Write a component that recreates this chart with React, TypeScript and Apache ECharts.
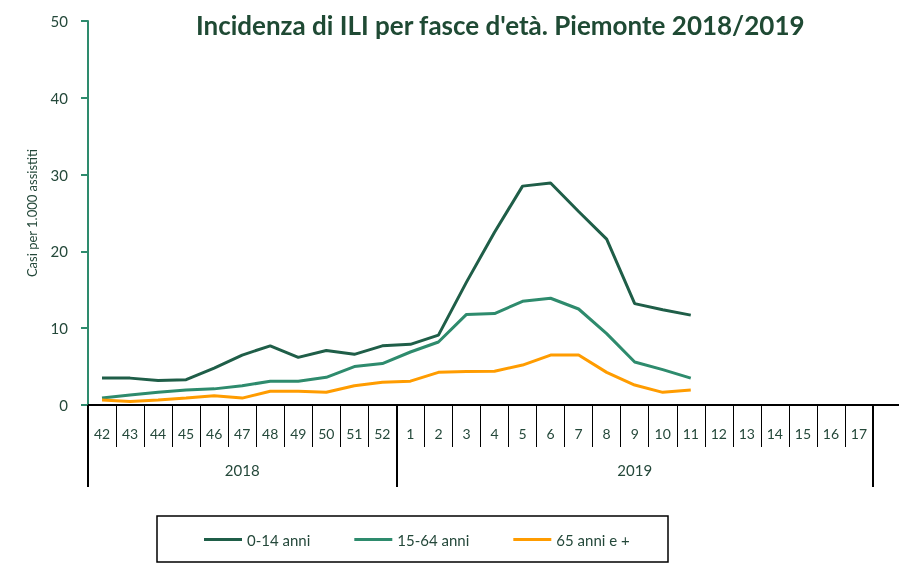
import React, { useEffect, useRef } from 'react';
import * as echarts from 'echarts';

const weeks = ['42', '43', '44', '45', '46', '47', '48', '49', '50', '51', '52',
  '1', '2', '3', '4', '5', '6', '7', '8', '9', '10', '11', '12', '13', '14', '15', '16', '17'];
const years = ['2018', '2019'];
const weeksPerYear = [11, 17];

const age0_14 = [3.5, 3.5, 3.2, 3.3, 4.8, 6.5, 7.7, 6.2, 7.1, 6.6, 7.7, 7.9, 9.1, 16.0, 22.5, 28.5, 28.9, 25.2, 21.6, 13.2, 12.4, 11.7];
const age15_64 = [0.9, 1.3, 1.65, 1.95, 2.1, 2.5, 3.1, 3.1, 3.6, 5.0, 5.4, 6.9, 8.2, 11.8, 11.9, 13.5, 13.9, 12.5, 9.3, 5.6, 4.6, 3.5];
const age65 = [0.65, 0.45, 0.65, 0.9, 1.2, 0.9, 1.8, 1.8, 1.65, 2.5, 2.95, 3.1, 4.25, 4.35, 4.4, 5.2, 6.5, 6.5, 4.25, 2.6, 1.65, 1.95];

const seriesNames = ['0-14 anni', '15-64 anni', '65 anni e +'];
const seriesColors = ['#1f5e48', '#2e8b6d', '#ff9c00'];

const FONT = 'Lato';
const TEXT = '#24483a';

export default function App() {
  const ref = useRef<HTMLDivElement>(null);
  useEffect(() => {
    const chart = echarts.init(ref.current!, null, { renderer: 'svg' });

    const yearAxisData: string[] = weeks.map(() => '');
    const boundaries: number[] = [];
    let start = 0;
    years.forEach((y, i) => {
      boundaries.push(start);
      yearAxisData[start + Math.floor(weeksPerYear[i] / 2)] = y;
      start += weeksPerYear[i];
    });

    const datasets = [age0_14, age15_64, age65];

    chart.setOption({
      animation: false,
      textStyle: { fontFamily: FONT },
      title: {
        text: "Incidenza di ILI per fasce d'età. Piemonte 2018/2019",
        left: 196,
        top: 12,
        padding: 0,
        textStyle: { fontFamily: FONT, fontSize: 26, fontWeight: 'bold', color: '#1f4a34' },
      },
      grid: { left: 88, right: 26, top: 21, bottom: 162, containLabel: false },
      legend: {
        left: 204,
        top: 532,
        padding: 0,
        icon: 'rect',
        itemWidth: 38,
        itemHeight: 3,
        itemGap: 44,
        textStyle: { fontFamily: FONT, fontSize: 15, color: TEXT },
        data: seriesNames,
      },
      xAxis: [
        {
          type: 'category',
          data: weeks,
          position: 'bottom',
          boundaryGap: true,
          axisLine: { show: true, lineStyle: { color: '#000', width: 2 } },
          axisTick: { show: true, interval: 0, length: 42, lineStyle: { color: '#000', width: 1 } },
          axisLabel: { interval: 0, margin: 21, fontSize: 14, color: TEXT, fontFamily: FONT },
        },
        {
          type: 'category',
          data: yearAxisData,
          position: 'bottom',
          boundaryGap: true,
          axisLine: { show: false },
          axisTick: {
            show: true,
            interval: (i: number) => boundaries.indexOf(i) >= 0,
            length: 82,
            lineStyle: { color: '#000', width: 2 },
          },
          axisLabel: { interval: 0, margin: 57, fontSize: 15, color: TEXT, fontFamily: FONT },
        },
      ],
      yAxis: {
        type: 'value',
        min: 0,
        max: 50,
        interval: 10,
        name: 'Casi per 1.000 assistiti',
        nameLocation: 'middle',
        nameGap: 50,
        nameRotate: 90,
        nameTextStyle: { fontSize: 13, color: TEXT, fontFamily: FONT },
        axisLine: { show: true, lineStyle: { color: '#2e8b6d', width: 2 } },
        axisTick: { show: true, length: 7, lineStyle: { color: '#2e8b6d', width: 2 } },
        axisLabel: { margin: 20, fontSize: 15, color: TEXT, fontFamily: FONT },
        splitLine: { show: false },
      },
      graphic: [
        {
          type: 'line',
          shape: { x1: 873, y1: 405, x2: 899, y2: 405 },
          style: { stroke: '#000', lineWidth: 2 },
        },
        {
          type: 'rect',
          shape: { x: 157, y: 516, width: 511, height: 46 },
          style: { fill: 'none', stroke: '#000', lineWidth: 1.5 },
        },
      ],
      series: datasets.map((d, i) => ({
        name: seriesNames[i],
        type: 'line',
        xAxisIndex: 0,
        data: d,
        showSymbol: false,
        symbol: 'none',
        lineStyle: { width: 3, color: seriesColors[i] },
        itemStyle: { color: seriesColors[i] },
      })),
    });
    return () => chart.dispose();
  }, []);
  return <div ref={ref} style={{ position: 'fixed', left: 0, top: 0, width: 899, height: 567 }} />;
}
